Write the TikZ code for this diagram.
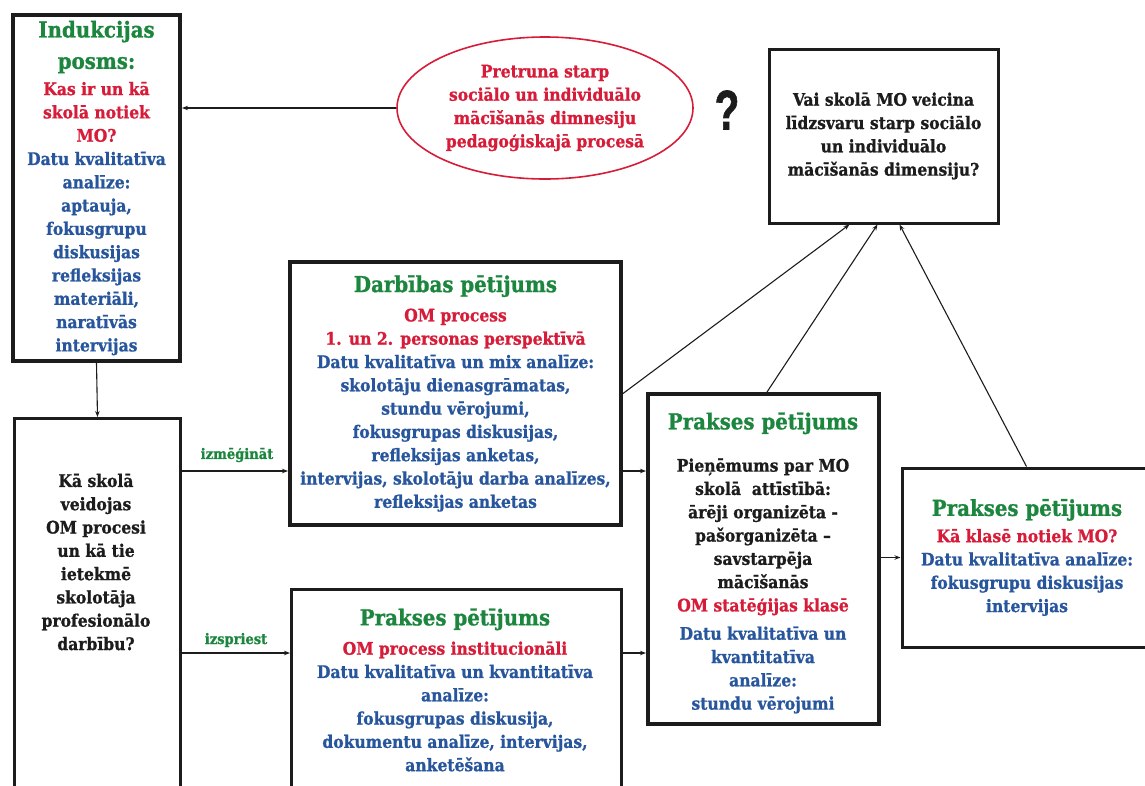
\documentclass[tikz,border=0pt]{standalone}
\usepackage{fontspec}
\usepackage{graphicx}
\setmainfont{DejaVu Serif Condensed}[BoldFeatures={FakeBold=1.0}]
\newfontfamily\qfont{Liberation Sans}[BoldFeatures={FakeBold=1.5}]
\usetikzlibrary{shapes.geometric,arrows.meta}

\definecolor{tgreen}{RGB}{28,134,62}
\definecolor{tred}{RGB}{214,28,56}
\definecolor{tblue}{RGB}{40,86,156}
\definecolor{ink}{RGB}{28,28,28}

% line helpers: title, red, blue
\newcommand{\ttl}[1]{{\fontsize{22}{26}\selectfont\color{tgreen}#1}}
\newcommand{\rd}[1]{{\color{tred}#1}}
\newcommand{\bl}[1]{{\color{tblue}#1}}

\begin{document}
\begin{tikzpicture}[x=1pt,y=-1pt,
  every node/.style={font=\bfseries\fontsize{17.3}{23.3}\selectfont, align=center, inner sep=0pt, text=ink},
  box/.style={draw=ink, line width=3pt, rectangle},
  heavy/.style={line width=4pt},
  lbl/.style={text=tgreen, font=\bfseries\fontsize{14.5}{16}\selectfont},
  arr/.style={draw=ink, line width=1.1pt, -{Stealth[length=6pt,width=4.5pt]}}
]
\useasboundingbox (0,0) rectangle (1145,785);

% induction stage
\node[box, heavy, minimum width=167, minimum height=346] (induk) at (96.5,188)
  {\ttl{Indukcijas}\\[8pt] \ttl{posms:}\\[3pt]
   \rd{Kas ir un kā}\\ \rd{skolā notiek}\\ \rd{MO?}\\
   \bl{Datu kvalitatīva}\\ \bl{analīze:}\\ \bl{aptauja,}\\ \bl{fokusgrupu}\\
   \bl{diskusijas}\\ \bl{refleksijas}\\ \bl{materiāli,}\\ \bl{naratīvās}\\ \bl{intervijas}};

% contradiction
\node[draw=tred, line width=1.6pt, ellipse, minimum width=296, minimum height=142, text=tred] (ellip) at (545,108)
  {Pretruna starp\\ sociālo un individuālo\\ mācīšanās dimnesiju\\ pedagoģiskajā procesā};

\node[font=\qfont\bfseries\fontsize{56}{56}\selectfont] (qmark) at (727,110) {\scalebox{0.72}[1]{?}};

% research question
\node[box, minimum width=229, minimum height=174] (tr) at (883.5,136)
  {Vai skolā MO veicina\\ līdzsvaru starp sociālo\\ un individuālo\\ mācīšanās dimensiju?};

% action research
\node[box, heavy, minimum width=331, minimum height=263] (mid) at (455.5,393.5)
  {\ttl{Darbības pētījums}\\[6pt]
   \rd{OM process}\\ \rd{1. un 2. personas perspektīvā}\\
   \bl{Datu kvalitatīva un mix analīze:}\\ \bl{skolotāju dienasgrāmatas,}\\
   \bl{stundu vērojumi,}\\ \bl{fokusgrupas diskusijas,}\\ \bl{refleksijas anketas,}\\
   \bl{intervijas, skolotāju darba analīzes,}\\ \bl{refleksijas anketas}};

% left question box
\node[box, minimum width=166, minimum height=383, anchor=north west] (lb) at (13,417) {};
\node (lbt) at (96,562)
  {Kā skolā\\ veidojas\\ OM procesi\\ un kā tie\\ ietekmē\\ skolotāja\\ profesionālo\\ darbību?};

% institutional practice research
\node[box, minimum width=330, minimum height=220, anchor=north west] (bm) at (290,588) {};
\node (bmt) at (455,690)
  {\ttl{Prakses pētījums}\\[6pt]
   \rd{OM process institucionāli}\\
   \bl{Datu kvalitatīva un kvantitatīva}\\ \bl{analīze:}\\
   \bl{fokusgrupas diskusija,}\\ \bl{dokumentu analīze, intervijas,}\\ \bl{anketēšana}};

% central practice research
\node[box, heavy, minimum width=231, minimum height=330, anchor=north west] (cb) at (646,392) {};
\node (cbt) at (763,563)
  {\ttl{Prakses pētījums}\\[19pt]
   Pieņēmums par MO\\ skolā~ attīstībā:\\ ārēji organizēta -\\ pašorganizēta –\\
   savstarpēja\\ mācīšanās\\ \rd{OM statēģijas klasē}\\[5pt]
   \bl{Datu kvalitatīva un}\\ \bl{kvantitatīva}\\ \bl{analīze:}\\ \bl{stundu vērojumi}};

% classroom practice research
\node[box, minimum width=250, minimum height=179] (rb) at (1027,557.5)
  {\ttl{Prakses pētījums}\\[3pt]
   \rd{Kā klasē notiek MO?}\\
   \bl{Datu kvalitatīva analīze:}\\ \bl{fokusgrupu diskusijas}\\ \bl{intervijas}};

% edge labels
\node[lbl] (l1) at (237,455) {izmēģināt};
\node[lbl] (l2) at (236,640) {izspriest};

% connectors
\coordinate (yA) at (0,471);
\coordinate (yB) at (0,653);
\draw[arr] (ellip.west) -- (ellip.west -| induk.east);
\draw[arr] (induk.south) -- (lb.north);
\draw[arr] (lb.east |- yA) -- (mid.west |- yA);
\draw[arr] (lb.east |- yB) -- (bm.west |- yB);
\draw[arr] (mid.east |- yA) -- (cb.west |- yA);
\draw[arr] (bm.east |- yB) -- (cb.west |- yB);
\draw[arr] (cb.east |- rb.west) -- (rb.west);
\draw[arr] (mid.east) -- ([xshift=82]tr.south west);
\draw[arr] ([xshift=121]cb.north west) -- ([xshift=110]tr.south west);
\draw[arr] ([xshift=126]rb.north west) -- ([xshift=132]tr.south west);
\end{tikzpicture}
\end{document}
